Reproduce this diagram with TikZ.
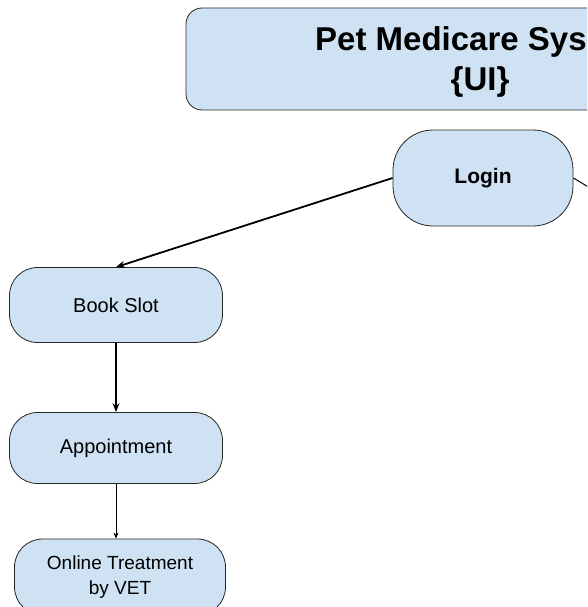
\documentclass[tikz,border=0pt]{standalone}
\usepackage{fontspec}
\setmainfont{Liberation Sans}
\usetikzlibrary{arrows.meta,positioning}
\definecolor{boxblue}{HTML}{CFE2F3}

\begin{document}
\begin{tikzpicture}[
x=1pt,y=-1pt,
>={Stealth[length=9pt,width=7pt]},
flow/.style={
	draw=black!85,
	fill=boxblue,
	rectangle,
	rounded corners=28pt,
	line width=0.8pt,
	align=center,
	font=\fontsize{20}{25}\selectfont
},
titletext/.style={
	inner sep=0pt,
	font=\bfseries\fontsize{33}{40}\selectfont
},
link/.style={
	->,
	line width=1.2pt
}
]
\useasboundingbox (0,0) rectangle (587,607);
\clip (0,0) rectangle (587,607);

\node[flow,rounded corners=16pt,minimum width=590pt,minimum height=102pt] (sys) at (481,59) {};
\node[titletext,anchor=base west] (sysname) at (315,51) {Pet Medicare Sys};
\node[titletext,anchor=base] (sysui) at (480,91) {\{UI\}};

\node[flow,font=\bfseries\fontsize{21}{25}\selectfont,
	minimum width=180pt,minimum height=96pt,rounded corners=40pt] (login) at (483,178) {Login};

\node[flow,minimum width=213pt,minimum height=75pt] (book) at (116,305) {Book Slot};
\node[flow,minimum width=213pt,minimum height=71pt] (appt) at (116,448) {Appointment};
\node[flow,font=\fontsize{19}{25}\selectfont,
	minimum width=211pt,minimum height=76pt] (vet) at (120,577) {Online Treatment\\by VET};

\coordinate (off) at (610,200);

\draw[link,line width=1.8pt] (login.west) -- (book.north);
\draw[line width=1pt] (login.east) -- (off);
\draw[link] (book.south) -- (appt.north);
\draw[->,line width=0.6pt,>={Stealth[length=6pt,width=5pt]}] (appt.south) -- (appt.south |- vet.north);
\end{tikzpicture}
\end{document}
